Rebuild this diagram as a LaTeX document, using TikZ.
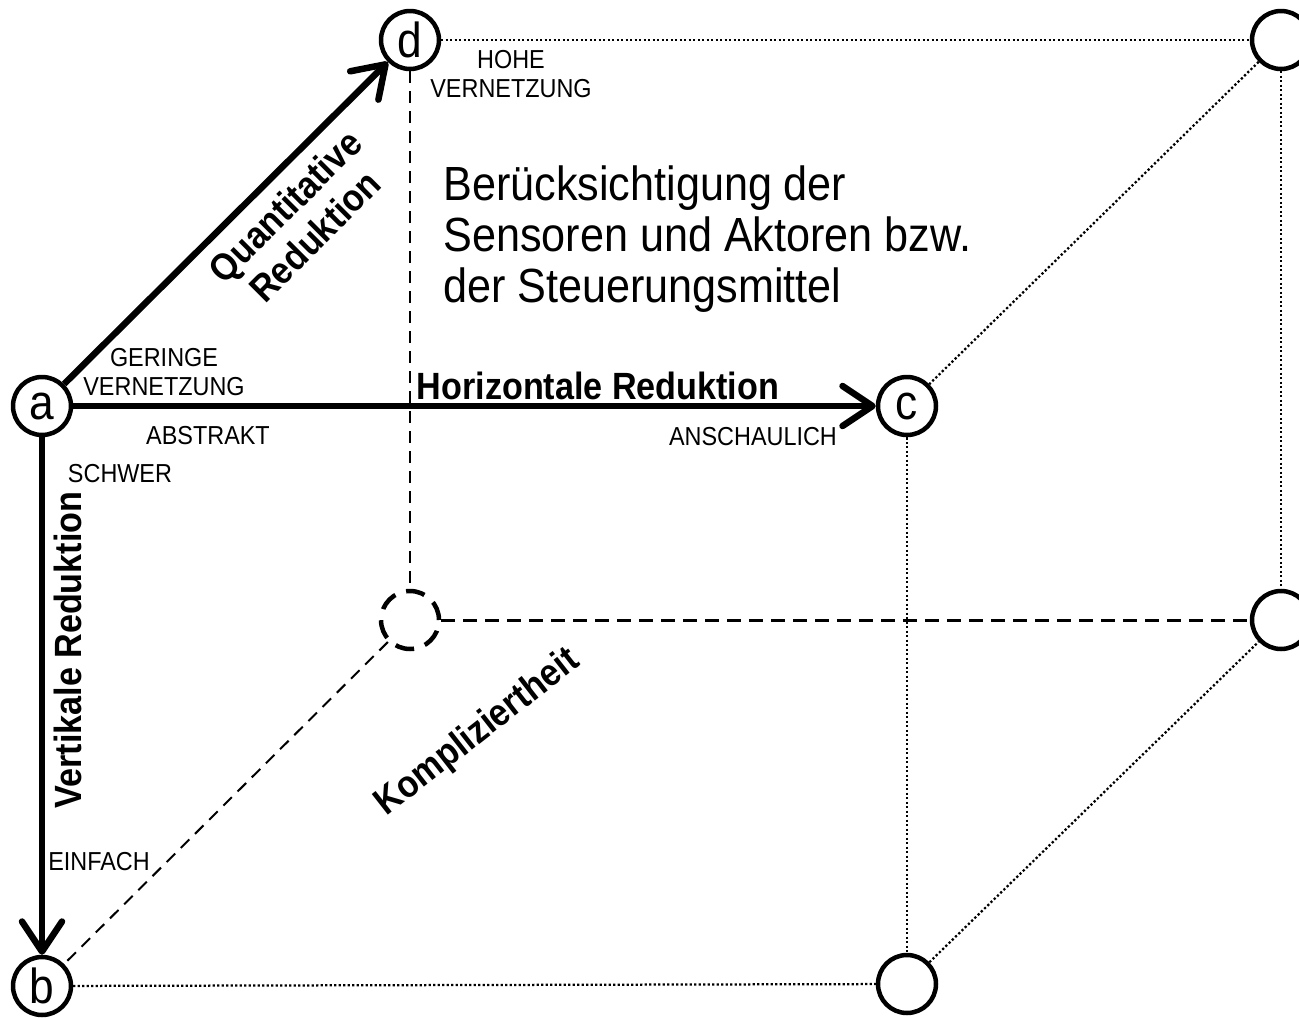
\documentclass[tikz,border=0pt]{standalone}
\usepackage{fontspec}
\setmainfont{Liberation Sans}[FakeStretch=0.9]
\usetikzlibrary{arrows.meta}
\begin{document}
\begin{tikzpicture}[x=0.02cm,y=-0.02cm,
  vertex/.style={circle, draw, line width=0.09cm, minimum size=1.16cm, inner sep=0pt,
    font=\fontsize{28}{32}\selectfont},
  hidden/.style={vertex, dash pattern=on 0.38cm off 0.228cm},
  axis/.style={line width=0.13cm,
    -{Straight Barb[length=0.6cm,width=0.8cm,round]}},
  edge/.style={line width=0.045cm, dash pattern=on 0.045cm off 0.045cm},
  backedge/.style={line width=0.04cm, dash pattern=on 0.24cm off 0.16cm},
  frontedge/.style={line width=0.06cm, dash pattern=on 0.28cm off 0.16cm},
  small/.style={font=\fontsize{14.8}{16.5}\selectfont, align=center, inner sep=0pt},
  bold/.style={font=\bfseries\fontsize{21.6}{23.9}\selectfont, align=center, inner sep=0pt},
]
\useasboundingbox (0,0) rectangle (1299,1018);

% cube corners
\node[vertex] (a) at (42,406) {a};
\node[vertex] (c) at (907,406) {c};
\node[vertex] (b) at (42,986) {b};
\node[vertex] (f) at (907,984) {};
\node[vertex] (d) at (410,40) {d};
\node[vertex] (g) at (1281,40) {};
\node[hidden] (h) at (410,620) {};
\node[vertex] (e) at (1281,620) {};

% dotted cube edges
\draw[edge] (d) -- (g);
\draw[edge] (g) -- (e);
\draw[edge] (g) -- (c);
\draw[edge] (c) -- (f);
\draw[edge] (b) -- (f);
\draw[edge] (f) -- (e);

% hidden edges
\draw[backedge] (d) -- (h);
\draw[backedge] (h) -- (b);
\draw[frontedge] (h) -- (e);

% reduction axes
\draw[axis] (a) -- (d);
\draw[axis] (a) -- (c);
\draw[axis] (a) -- (b);

% labels
\node[small] (hohe) at (511,74) {HOHE\\VERNETZUNG};
\node[small] (geringe) at (164,372) {GERINGE\\VERNETZUNG};
\node[small] (abstrakt) at (208,436) {ABSTRAKT};
\node[small] (schwer) at (120,474) {SCHWER};
\node[small] (anschaulich) at (753,437) {ANSCHAULICH};
\node[small] (einfach) at (99,862) {EINFACH};
\node[bold] (hor) at (598,386) {Horizontale Reduktion};
\node[bold, rotate=90] (ver) at (68,650) {Vertikale Reduktion};
\node[bold, rotate=45] (quant) at (300,221) {Quantitative\\Reduktion};
\node[bold, rotate=38] (kompl) at (478,733) {Kompliziertheit};
\node[font=\fontsize{27.3}{29}\selectfont, align=left, anchor=west, inner sep=0pt]
  (note) at (443,239) {Berücksichtigung der\\Sensoren und Aktoren bzw.\\der Steuerungsmittel};
\end{tikzpicture}
\end{document}
